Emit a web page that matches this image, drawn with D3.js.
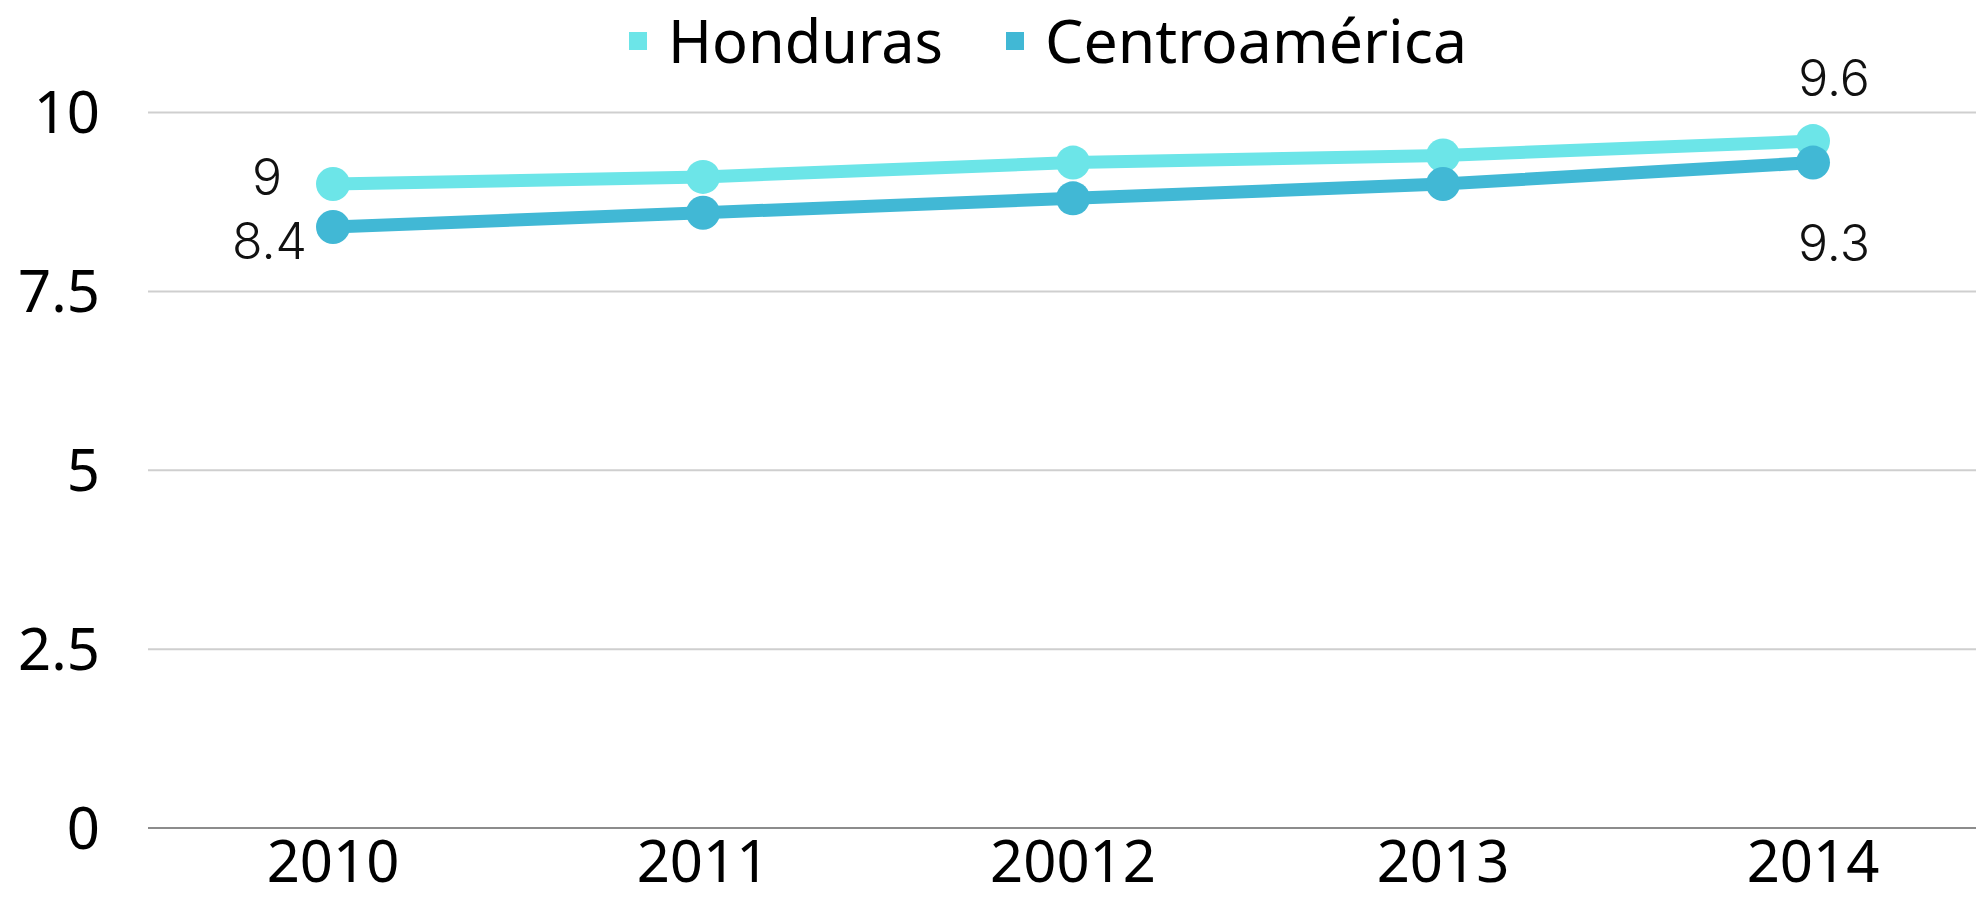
<!DOCTYPE html>
<html>
<head>
<meta charset="utf-8">
<script src="https://cdn.jsdelivr.net/npm/d3@7"></script>
<style>
  body { margin: 0; background: #fff; }
</style>
</head>
<body>
<svg width="1976" height="922"></svg>
<script>
// data
var years = ["2010", "2011", "20012", "2013", "2014"];
var honduras = [9, 9.1, 9.3, 9.4, 9.6];
var centro = [8.4, 8.6, 8.8, 9.0, 9.3];
var yTicks = [0, 2.5, 5, 7.5, 10];
var seriesNames = ["Honduras", "Centroamérica"];
var colors = ["#6ce5e8", "#41b8d5"];

var svg = d3.select("svg"),
    width = +svg.attr("width"),
    height = +svg.attr("height");

var x = d3.scaleBand()
    .domain(years)
    .range([148, 1998]);

var y = d3.scaleLinear()
    .domain([0, 10])
    .range([828, 112.5]);

// gridlines
svg.append("g")
  .selectAll("line")
  .data(yTicks)
  .enter().append("line")
    .attr("x1", 148)
    .attr("x2", width)
    .attr("y1", function(d){ return y(d) })
    .attr("y2", function(d){ return y(d) })
    .style("stroke", function(d){ return d === 0 ? "#8c8c8c" : "#cfcfcf" })
    .style("stroke-width", 2)

// y axis labels
svg.append("g")
  .selectAll("text")
  .data(yTicks)
  .enter().append("text")
    .attr("x", 100)
    .attr("y", function(d){ return y(d) })
    .attr("dy", "0.36em")
    .attr("text-anchor", "end")
    .style("font-family", "'Noto Sans', sans-serif")
    .style("font-size", "58px")
    .text(function(d){ return d })

// x axis labels
svg.append("g")
  .selectAll("text")
  .data(years)
  .enter().append("text")
    .attr("x", function(d){ return x(d) + x.bandwidth()/2 })
    .attr("y", 882)
    .attr("text-anchor", "middle")
    .style("font-family", "'Noto Sans', sans-serif")
    .style("font-size", "58px")
    .text(function(d){ return d })

var series = [honduras, centro];

var line = d3.line()
    .x(function(d, i){ return x(years[i]) + x.bandwidth()/2 })
    .y(function(d){ return y(d) })

series.forEach(function(vals, s){
  svg.append("path")
    .datum(vals)
    .attr("d", line)
    .style("fill", "none")
    .style("stroke", colors[s])
    .style("stroke-width", 13)

  svg.append("g")
    .selectAll("circle")
    .data(vals)
    .enter().append("circle")
      .attr("cx", function(d, i){ return x(years[i]) + x.bandwidth()/2 })
      .attr("cy", function(d){ return y(d) })
      .attr("r", 17)
      .style("fill", colors[s])
})

// data labels (first and last only)
var labelStyle = function(sel){
  sel.style("font-family", "Inter, sans-serif")
    .style("font-weight", 300)
    .style("font-size", "50px")
    .style("fill", "#111")
}
var cx = function(i){ return x(years[i]) + x.bandwidth()/2 }

svg.append("text").call(labelStyle)
  .attr("x", cx(0) - 51).attr("y", y(honduras[0]) - 7).attr("dy", "0.36em")
  .attr("text-anchor", "end").text(honduras[0])
svg.append("text").call(labelStyle)
  .attr("x", cx(0) - 26).attr("y", y(centro[0]) + 14).attr("dy", "0.36em")
  .attr("text-anchor", "end").text(centro[0])
svg.append("text").call(labelStyle)
  .attr("x", cx(4) + 21).attr("y", y(honduras[4]) - 63).attr("dy", "0.36em")
  .attr("text-anchor", "middle").text(honduras[4])
svg.append("text").call(labelStyle)
  .attr("x", cx(4) + 21).attr("y", y(centro[4]) + 80).attr("dy", "0.36em")
  .attr("text-anchor", "middle").text(centro[4])

// legend
var legendX = [629, 1006];
var legendW = [275, 422];
var legend = svg.append("g")
  .selectAll("g")
  .data(seriesNames)
  .enter().append("g")
    .attr("transform", function(d, i){ return "translate(" + legendX[i] + ",41)" })

legend.append("rect")
  .attr("x", 0).attr("y", -9)
  .attr("width", 18).attr("height", 18)
  .style("fill", function(d, i){ return colors[i] })

legend.append("text")
  .attr("x", 39)
  .attr("dy", "0.36em")
  .attr("textLength", function(d, i){ return legendW[i] })
  .attr("lengthAdjust", "spacingAndGlyphs")
  .style("font-family", "'Noto Sans', sans-serif")
  .style("font-size", "60px")
  .text(function(d){ return d })
</script>
</body>
</html>
